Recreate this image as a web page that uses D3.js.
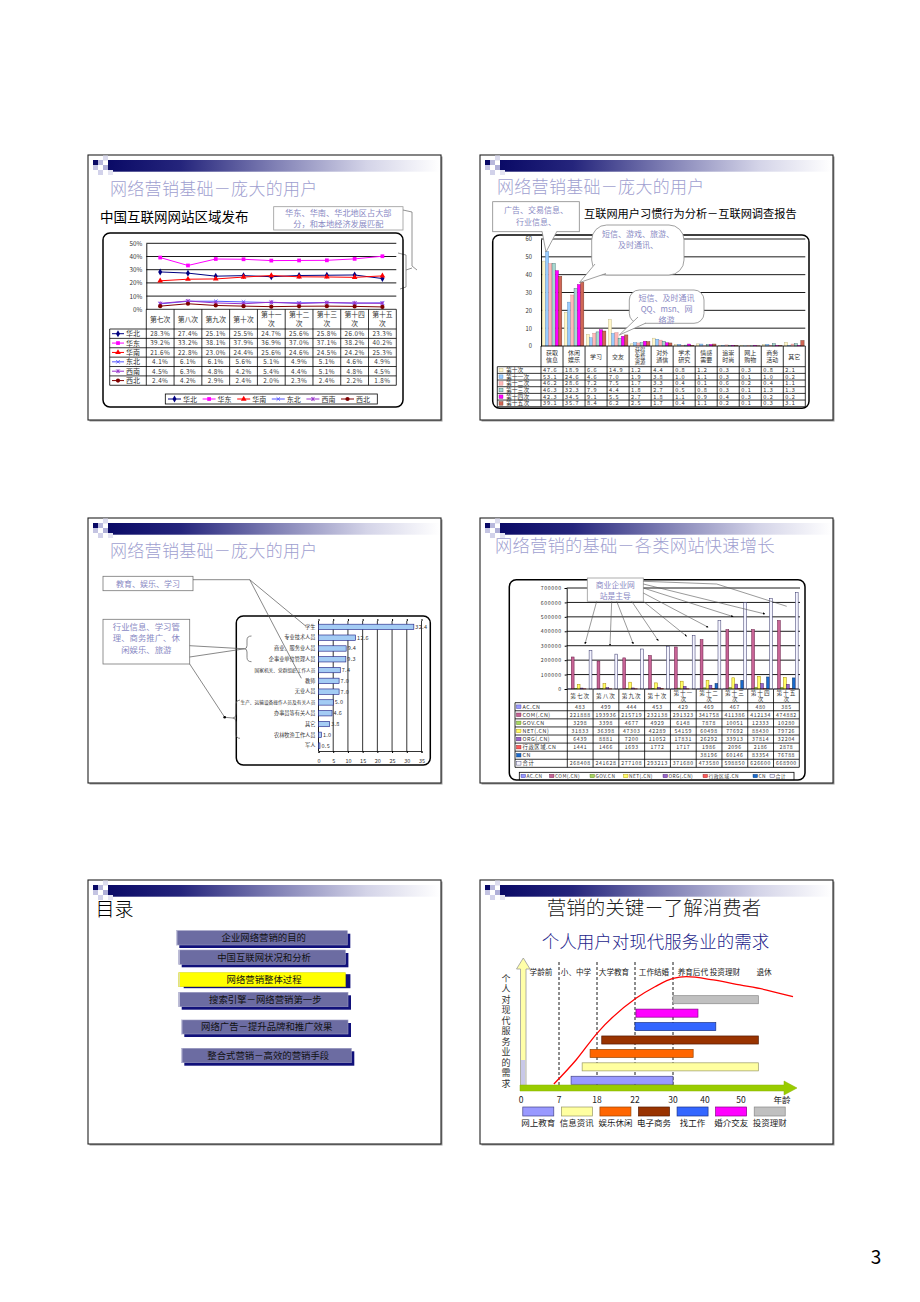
<!DOCTYPE html>
<html><head><meta charset="utf-8">
<script src="https://cdn.jsdelivr.net/npm/d3@7"></script>
<style>body{margin:0;background:#fff}svg{display:block}text{font-family:"Noto Sans CJK SC","Noto Sans",sans-serif}</style>
</head><body><svg id="c" width="920" height="1302"></svg>
<script>
// ---------- DATA ----------
// Slide 1: 中国互联网网站区域发布 (%)
const rounds1 = ["第七次","第八次","第九次","第十次","第十一次","第十二次","第十三次","第十四次","第十五次"];
const huabei = [28.3,27.4,25.1,25.5,24.7,25.6,25.8,26.0,23.3];
const huadong = [39.2,33.2,38.1,37.9,36.9,37.0,37.1,38.2,40.2];
const huanan = [21.6,22.8,23.0,24.4,25.6,24.6,24.5,24.2,25.3];
const dongbei = [4.1,6.1,6.1,5.6,5.1,4.9,5.1,4.6,4.9];
const xinan = [4.5,6.3,4.8,4.2,5.4,4.4,5.1,4.8,4.5];
const xibei = [2.4,4.2,2.9,2.4,2.0,2.3,2.4,2.2,1.8];
const regionNames = ["华北","华东","华南","东北","西南","西北"];
const pctTicks = [0,0.1,0.2,0.3,0.4,0.5];

// Slide 2: 互联网用户习惯行为分析
const habits = ["获取信息","休闲娱乐","学习","交友","获得免费资源","对外通信","学术研究","情感需要","追崇时尚","网上购物","商务活动","其它"];
const habitLabels = [["获取","信息"],["休闲","娱乐"],["学习"],["交友"],["获得","免费","资源"],["对外","通信"],["学术","研究"],["情感","需要"],["追崇","时尚"],["网上","购物"],["商务","活动"],["其它"]];
const surveys = ["第十次","第十一次","第十二次","第十三次","第十四次","第十五次"];
const habit10 = [47.6,18.9,6.6,14.9,1.2,4.4,0.8,1.2,0.3,0.3,0.8,2.1];
const habit11 = [53.1,24.6,4.6,7.0,1.9,3.8,1.0,1.1,0.3,0.1,1.0,0.2];
const habit12 = [46.2,28.6,7.2,7.5,1.7,3.3,0.4,0.1,0.6,0.2,0.4,1.1];
const habit13 = [46.3,32.3,7.9,4.4,1.8,2.7,0.5,0.8,0.3,0.1,1.3,1.3];
const habit14 = [42.3,34.5,9.1,5.5,2.7,1.8,1.1,0.9,0.4,0.3,0.2,0.2];
const habit15 = [39.1,35.7,8.4,6.2,2.5,1.7,0.4,1.1,0.2,0.1,0.3,3.1];
const habitTicks = [0,10,20,30,40,50,60];

// Slide 3: 职业分布 (%)
const occupations = ["学生","专业技术人员","商业、服务业人员","企事业单位管理人员","国家机关、党群组织工作人员","教师","无业人员","生产、运输设备操作人员及有关人员","办事员等有关人员","其它","农林牧渔工作人员","军人"];
const occValues = [32.4,12.6,9.4,9.3,7.4,7.0,7.0,5.0,4.6,3.8,1.0,0.5];
const occTicks = [0,5,10,15,20,25,30,35];

// Slide 4: 各类网站数量
const rounds4 = ["第七次","第八次","第九次","第十次","第十一次","第十二次","第十三次","第十四次","第十五次"];
const domainNames = ["AC.CN","COM(.CN)","GOV.CN","NET(.CN)","ORG(.CN)","行政区域.CN","CN","合计"];
const acCN = [483,499,444,453,429,469,467,480,385];
const comCN = [221888,193936,215719,232138,291323,341758,411386,412134,474882];
const govCN = [3298,3398,4677,4929,6148,7878,10051,12333,10280];
const netCN = [31833,36398,47303,42289,54159,60498,77692,88430,79726];
const orgCN = [6439,8881,7200,11052,17831,26292,33913,37814,32204];
const xzqyCN = [1441,1466,1693,1772,1717,1986,2096,2186,2878];
const cnCN = [null,null,null,null,null,38196,60146,83354,76788];
const totalCN = [268408,241628,277108,293213,371680,473580,598850,626600,668900];
const siteTicks = [0,100000,200000,300000,400000,500000,600000,700000];

// Slide 5: 目录
const tocItems = ["企业网络营销的目的","中国互联网状况和分析","网络营销整体过程","搜索引擎－网络营销第一步","网络广告－提升品牌和推广效果","整合式营销－高效的营销手段"];

// Slide 6: 个人用户对现代服务业的需求
const ageTicks = [0,7,18,22,30,40,50];
const lifeStages = ["学龄前","小、中学","大学教育","工作结婚","养育后代 投资理财","退休"];
const services = ["投资理财","婚介交友","找工作","电子商务","娱乐休闲","信息资讯","网上教育"];
const serviceStart = [30,22.2,22,18.5,16,13.7,10.5];
const serviceEnd = [55,37.8,43,55,36.3,55,30];
const legendServices = ["网上教育","信息资讯","娱乐休闲","电子商务","找工作","婚介交友","投资理财"];
const curveAges = [6,12,18,22.2,26.2,30,34.2,42.3,49.7,57.4,65];
const curveLevel = [3.5,25,48.4,79.4,89.6,97,98.5,95.6,91.2,86.7,80.8];

// ---------- HELPERS ----------
const svg = d3.select("#c");
svg.append("rect").attr("width",920).attr("height",1302).attr("fill","#fff");
const defs = svg.append("defs");
const grad = defs.append("linearGradient").attr("id","hdr").attr("x1","0").attr("x2","1");
[[0,"#0a0a66"],[0.22,"#25257c"],[0.5,"#7f7fb4"],[0.78,"#d4d4e8"],[1,"#ffffff"]].forEach(([o,c])=>grad.append("stop").attr("offset",o).attr("stop-color",c));
defs.append("marker").attr("id","arr").attr("viewBox","0 0 10 10").attr("refX",9).attr("refY",5)
  .attr("markerWidth",4).attr("markerHeight",4).attr("orient","auto")
  .append("path").attr("d","M0,0L10,5L0,10z").attr("fill","#000");

function txt(g,x,y,s,size,fill,o={}){
  const t=g.append("text").attr("x",x).attr("y",y).text(s).attr("font-size",size).attr("fill",fill);
  if(o.anchor) t.attr("text-anchor",o.anchor);
  if(o.weight) t.attr("font-weight",o.weight);
  if(o.ls!=null) t.attr("letter-spacing",o.ls);
  if(o.family) t.attr("font-family",o.family);
  return t;
}
function frame(x,y,w,h){
  const g=svg.append("g");
  g.append("rect").attr("x",x+1.5).attr("y",y+1.5).attr("width",w).attr("height",h).attr("fill","#999");
  g.append("rect").attr("x",x).attr("y",y).attr("width",w).attr("height",h).attr("fill","#fff").attr("stroke","#222").attr("stroke-width",1.1);
  g.append("rect").attr("x",x+20).attr("y",y+5).attr("width",w-21).attr("height",11.7).attr("fill","url(#hdr)");
  const sq=[[5,5,"#0a0a66"],[10,5,"#b8b8dc"],[15,0.5,"#dcdcee"],[5,10,"#c4c4e2"],[15,10,"#b0b0d8"],[10,15,"#d2d2ea"],[20,15,"#e4e4f2"]];
  sq.forEach(([dx,dy,c])=>g.append("rect").attr("x",x+dx).attr("y",y+dy).attr("width",5).attr("height",5).attr("fill",c));
  return g;
}
const lav="#8a8ac4";
function line(g,pts,color="#555",w=0.7,arrow=false){
  const p=g.append("path").attr("d",d3.line()(pts)).attr("fill","none").attr("stroke",color).attr("stroke-width",w);
  if(arrow) p.attr("marker-end","url(#arr)");
  return p;
}
const symX={draw(c,s){const r=Math.sqrt(s)/2;c.moveTo(-r,-r);c.lineTo(r,r);c.moveTo(-r,r);c.lineTo(r,-r);}};
const symAst={draw(c,s){const r=Math.sqrt(s)/2;c.moveTo(-r,-r);c.lineTo(r,r);c.moveTo(-r,r);c.lineTo(r,-r);c.moveTo(0,-r*1.2);c.lineTo(0,r*1.2);}};

// ---------- SLIDE 1 ----------
{
  const g=frame(88,155,353,265);
  txt(g,110,195,"网络营销基础－庞大的用户",17,"#a0a0d0",{weight:300,ls:0.3});
  txt(g,100,222,"中国互联网网站区域发布",13.5,"#000");
  g.append("rect").attr("x",273.7).attr("y",206.7).attr("width",129.3).attr("height",23.3).attr("fill","#fff").attr("stroke","#999").attr("stroke-width",0.8);
  txt(g,338.3,216.3,"华东、华南、华北地区占大部",8.2,lav,{anchor:"middle"});
  txt(g,338.3,227,"分，和本地经济发展匹配",8.2,lav,{anchor:"middle"});
  line(g,[[403,210],[412,212],[412,266],[417,270]],"#777",0.8);
  line(g,[[398,253],[406,255],[406,287],[400,289]],"#777",0.8);
  line(g,[[406,270],[412,268]],"#777",0.8);
  g.append("rect").attr("x",103).attr("y",233).attr("width",300).attr("height",174).attr("rx",7).attr("fill","none").attr("stroke","#000").attr("stroke-width",1.5);

  const x=d3.scaleBand().domain(rounds1).range([146.3,396.3]);
  const y=d3.scaleLinear().domain([0,0.5]).range([309.3,243.3]);
  g.append("g").selectAll("line").data(pctTicks.filter(d=>d>0)).join("line")
    .attr("x1",146.3).attr("x2",396.3).attr("y1",d=>y(d)).attr("y2",d=>y(d)).attr("stroke","#000").attr("stroke-width",0.9);
  const ax=g.append("g").attr("transform","translate(146.3,0)")
    .call(d3.axisLeft(y).tickValues(pctTicks).tickFormat(d3.format(".0%")).tickSize(0).tickPadding(4));
  ax.select(".domain").attr("stroke","#000").attr("stroke-width",0.9);
  ax.selectAll("text").attr("font-size",6.3).attr("fill","#333").attr("font-family","Liberation Serif, serif");

  const series=[
    {n:"华北",v:huabei,c:"#000080",s:d3.symbolDiamond,f:true},
    {n:"华东",v:huadong,c:"#ff00ff",s:d3.symbolSquare,f:true},
    {n:"华南",v:huanan,c:"#ff0000",s:d3.symbolTriangle,f:true},
    {n:"东北",v:dongbei,c:"#5555ff",s:symX,f:false},
    {n:"西南",v:xinan,c:"#9933cc",s:symAst,f:false},
    {n:"西北",v:xibei,c:"#800000",s:d3.symbolCircle,f:true}];
  const cx=(i)=>x(rounds1[i])+x.bandwidth()/2;
  const sym=(s)=>d3.symbol().type(s.s).size(s.f?14:12)();
  series.forEach(s=>{
    g.append("path").attr("d",d3.line().x((d,i)=>cx(i)).y(d=>y(d/100))(s.v)).attr("fill","none").attr("stroke",s.c).attr("stroke-width",1);
    g.append("g").selectAll("path").data(s.v).join("path").attr("d",sym(s))
      .attr("transform",(d,i)=>`translate(${cx(i)},${y(d/100)})`)
      .attr("fill",s.f?s.c:"none").attr("stroke",s.c).attr("stroke-width",s.f?0:0.9);
  });
  // table
  const top=309.3, hdrB=329, rh=9.38, rows=6, bottom=hdrB+rh*rows, left=109.7;
  const tg=g.append("g").attr("stroke","#000").attr("stroke-width",0.8);
  tg.append("line").attr("x1",146.3).attr("x2",396.3).attr("y1",top).attr("y2",top);
  for(let r=0;r<=rows;r++) tg.append("line").attr("x1",left).attr("x2",396.3).attr("y1",hdrB+r*rh).attr("y2",hdrB+r*rh);
  rounds1.forEach(d=>tg.append("line").attr("x1",x(d)).attr("x2",x(d)).attr("y1",top).attr("y2",bottom));
  tg.append("line").attr("x1",396.3).attr("x2",396.3).attr("y1",top).attr("y2",bottom);
  tg.append("line").attr("x1",left).attr("x2",left).attr("y1",hdrB).attr("y2",bottom);
  rounds1.forEach((d,i)=>{
    if(d.length>3){txt(g,cx(i),317,d.slice(0,3),6.8,"#333",{anchor:"middle"});txt(g,cx(i),326,d.slice(3),6.8,"#333",{anchor:"middle"});}
    else txt(g,cx(i),321.5,d,6.8,"#333",{anchor:"middle"});
  });
  series.forEach((s,r)=>{
    const yy=hdrB+r*rh+rh/2;
    g.append("line").attr("x1",112).attr("x2",124).attr("y1",yy).attr("y2",yy).attr("stroke",s.c).attr("stroke-width",1);
    g.append("path").attr("d",sym(s)).attr("transform",`translate(118,${yy})`).attr("fill",s.f?s.c:"none").attr("stroke",s.c).attr("stroke-width",s.f?0:0.9);
    txt(g,126,yy+2.5,s.n,7,"#333");
    s.v.forEach((v,i)=>txt(g,cx(i),yy+2.3,v.toFixed(1)+"%",6.3,"#333",{anchor:"middle",ls:0.4,family:"Liberation Serif, serif"}));
  });
  // legend
  g.append("rect").attr("x",165.3).attr("y",394).attr("width",212).attr("height",10).attr("fill","#fff").attr("stroke","#000").attr("stroke-width",0.8);
  series.forEach((s,i)=>{
    const lx=168+i*34.6, ly=399;
    g.append("line").attr("x1",lx).attr("x2",lx+13).attr("y1",ly).attr("y2",ly).attr("stroke",s.c).attr("stroke-width",1);
    g.append("path").attr("d",sym(s)).attr("transform",`translate(${lx+6.5},${ly})`).attr("fill",s.f?s.c:"none").attr("stroke",s.c).attr("stroke-width",s.f?0:0.9);
    txt(g,lx+15,ly+2.5,s.n,7,"#333");
  });
}

// ---------- SLIDE 2 ----------
{
  const g=frame(480,155,353,265);
  txt(g,497,193,"网络营销基础－庞大的用户",17,"#a0a0d0",{weight:300,ls:0.3});
  txt(g,584,217.5,"互联网用户习惯行为分析－互联网调查报告",11.2,"#000");
  g.append("rect").attr("x",492.7).attr("y",235).attr("width",316.3).attr("height",173.3).attr("rx",7).attr("fill","none").attr("stroke","#000").attr("stroke-width",1.5);
  const x=d3.scaleBand().domain(habits).range([541,805.3]);
  const xs=d3.scaleBand().domain(surveys).range([1.2,x.bandwidth()-1.2]);
  const y=d3.scaleLinear().domain([0,60]).range([346,239]);
  g.append("g").selectAll("line").data(habitTicks.filter(d=>d>0)).join("line")
    .attr("x1",541).attr("x2",805.3).attr("y1",d=>y(d)).attr("y2",d=>y(d)).attr("stroke","#000").attr("stroke-width",0.9);
  const ax=g.append("g").attr("transform","translate(541,0)").call(d3.axisLeft(y).tickValues(habitTicks).tickSize(0).tickPadding(9));
  ax.select(".domain").attr("stroke","#000").attr("stroke-width",0.9);
  ax.selectAll("text").attr("font-size",5.8).attr("fill","#333").attr("font-family","Liberation Serif, serif");
  const cols={"第十次":["#fff6c8","#b8b080"],"第十一次":["#99ccff","#5588bb"],"第十二次":["#ffb8b8","#cc8888"],"第十三次":["#a8d8d0","#336666"],"第十四次":["#ff00ff","#990099"],"第十五次":["#d06655","#663322"]};
  const sv=[habit10,habit11,habit12,habit13,habit14,habit15];
  surveys.forEach((s,k)=>{
    g.append("g").selectAll("rect").data(sv[k]).join("rect")
      .attr("x",(d,i)=>x(habits[i])+xs(s)).attr("width",xs.bandwidth())
      .attr("y",d=>y(d)).attr("height",d=>y(0)-y(d))
      .attr("fill",cols[s][0]).attr("stroke",cols[s][1]).attr("stroke-width",0.4);
  });
  // table
  const top=346, hdrB=366.7, rh=6.67, bottom=hdrB+rh*6, left=497.3;
  const tg=g.append("g").attr("stroke","#000").attr("stroke-width",0.8);
  tg.append("line").attr("x1",541).attr("x2",805.3).attr("y1",top).attr("y2",top);
  for(let r=0;r<=6;r++) tg.append("line").attr("x1",left).attr("x2",805.3).attr("y1",hdrB+r*rh).attr("y2",hdrB+r*rh);
  habits.forEach(d=>tg.append("line").attr("x1",x(d)).attr("x2",x(d)).attr("y1",top).attr("y2",bottom));
  tg.append("line").attr("x1",805.3).attr("x2",805.3).attr("y1",top).attr("y2",bottom);
  tg.append("line").attr("x1",left).attr("x2",left).attr("y1",hdrB).attr("y2",bottom);
  habitLabels.forEach((lbl,i)=>{
    const c=x(habits[i])+x.bandwidth()/2, fs=lbl.length>2?5.3:6;
    const y0=356.3-(lbl.length-1)*fs*0.55+fs*0.38;
    lbl.forEach((t,j)=>txt(g,c,y0+j*fs*1.1,t,fs,"#333",{anchor:"middle"}));
  });
  surveys.forEach((s,r)=>{
    const yy=hdrB+r*rh+rh/2;
    g.append("rect").attr("x",499).attr("y",yy-1.8).attr("width",4).attr("height",3.6).attr("fill",cols[s][0]).attr("stroke",cols[s][1]).attr("stroke-width",0.4);
    txt(g,506,yy+2.1,s,5.8,"#333");
    sv[r].forEach((v,i)=>txt(g,x(habits[i])+2,yy+2.1,v.toFixed(1),5.6,"#333",{ls:0.9,family:"Liberation Serif, serif"}));
  });
  // callouts
  g.append("rect").attr("x",492.7).attr("y",201.7).attr("width",86.6).attr("height",30).attr("fill","#fff").attr("stroke","#888").attr("stroke-width",0.8);
  g.append("path").attr("d","M542,231.2L546,252L557,231.2").attr("fill","#fff").attr("stroke","#888").attr("stroke-width",0.8);
  g.append("rect").attr("x",542.6).attr("y",230.3).attr("width",13.6).attr("height",1.6).attr("fill","#fff");
  txt(g,536,213,"广告、交易信息、",8,lav,{anchor:"middle"});
  txt(g,536,225,"行业信息、",8,lav,{anchor:"middle"});

  g.append("rect").attr("x",591.7).attr("y",225).attr("width",92.3).attr("height",50).attr("rx",15).attr("fill","#fff").attr("stroke","#888").attr("stroke-width",0.8);
  g.append("path").attr("d","M595,264L579.5,282.5L606,273.5").attr("fill","#fff").attr("stroke","#888").attr("stroke-width",0.8);
  g.append("path").attr("d","M596,263.5L604,272.5L596.5,271Z").attr("fill","#fff");
  txt(g,638,237,"短信、游戏、旅游、",8,lav,{anchor:"middle"});
  txt(g,638,248,"及时通讯、",8,lav,{anchor:"middle"});

  g.append("rect").attr("x",629.3).attr("y",290).attr("width",74.7).attr("height",33.3).attr("rx",10).attr("fill","#fff").attr("stroke","#888").attr("stroke-width",0.8);
  g.append("path").attr("d","M638,317L619.3,335L646,323").attr("fill","#fff").attr("stroke","#888").attr("stroke-width",0.8);
  g.append("path").attr("d","M637.5,318.5L645,322.5L640,321Z").attr("fill","#fff");
  txt(g,666.6,300.5,"短信、及时通讯",8,lav,{anchor:"middle"});
  txt(g,666.6,311.5,"QQ、msn、网",8,lav,{anchor:"middle"});
  txt(g,666.6,322.5,"络游",8,lav,{anchor:"middle"});
}

// ---------- SLIDE 3 ----------
{
  const g=frame(88,518,353,265);
  txt(g,110,557,"网络营销基础－庞大的用户",17,"#a0a0d0",{weight:300,ls:0.3});
  g.append("rect").attr("x",236.3).attr("y",616).attr("width",194).attr("height",149).attr("rx",7).attr("fill","none").attr("stroke","#000").attr("stroke-width",1.5);
  const x=d3.scaleLinear().domain([0,35]).range([318.5,421.5]);
  const y=d3.scaleBand().domain(occupations).range([621.5,751]).paddingInner(0.5).paddingOuter(0.25);
  g.append("g").selectAll("line").data(occTicks.filter(d=>d>0)).join("line")
    .attr("x1",d=>x(d)).attr("x2",d=>x(d)).attr("y1",621).attr("y2",751).attr("stroke","#000").attr("stroke-width",0.8);
  const ax=g.append("g").attr("transform","translate(0,751)").call(d3.axisBottom(x).tickValues(occTicks).tickSize(2).tickPadding(6));
  ax.select(".domain").attr("stroke","#000").attr("stroke-width",0.8);
  ax.selectAll("text").attr("font-size",5.5).attr("fill","#333").attr("font-family","Liberation Serif, serif");
  const axT=g.append("g").attr("transform","translate(0,621)").call(d3.axisTop(x).tickValues(occTicks).tickSize(2).tickFormat(""));
  axT.select(".domain").remove();
  g.append("line").attr("x1",318.5).attr("x2",318.5).attr("y1",621).attr("y2",751).attr("stroke","#000").attr("stroke-width",0.9);
  g.append("g").selectAll("rect").data(occValues).join("rect")
    .attr("x",x(0)).attr("y",(d,i)=>y(occupations[i])).attr("height",y.bandwidth())
    .attr("width",d=>x(d)-x(0)).attr("fill","#a4ccf4").attr("stroke","#1a1a80").attr("stroke-width",0.6);
  occupations.forEach((o,i)=>{
    const cy=y(o)+y.bandwidth()/2;
    txt(g,315.5,cy+1.8,o,o.length>12?4.7:5.2,"#333",{anchor:"end"});
    txt(g,x(occValues[i])+1.5,cy+2,occValues[i].toFixed(1),5.5,"#333",{family:"Liberation Serif, serif",ls:0.3});
  });
  // callouts
  g.append("rect").attr("x",103).attr("y",576.3).attr("width",90).attr("height",14.4).attr("fill","#fff").attr("stroke","#777").attr("stroke-width",0.8);
  txt(g,148,586.5,"教育、娱乐、学习",8,lav,{anchor:"middle"});
  line(g,[[193,579.7],[249.7,579.7]]);
  line(g,[[249.7,579.7],[306,626.3]]);
  line(g,[[249.7,579.7],[301.3,678.3]]);
  g.append("rect").attr("x",103).attr("y",619.3).attr("width",86.7).attr("height",44.7).attr("fill","#fff").attr("stroke","#777").attr("stroke-width",0.8);
  txt(g,146.3,629.8,"行业信息、学习管",8.4,lav,{anchor:"middle"});
  txt(g,146.3,641.3,"理、商务推广、休",8.4,lav,{anchor:"middle"});
  txt(g,146.3,652.8,"闲娱乐、旅游",8.4,lav,{anchor:"middle"});
  line(g,[[189.7,645.7],[244.5,648.8]]);
  line(g,[[189.7,657],[244.5,648.8]]);
  g.append("path").attr("d","M251.5,636Q247,636 247,640L247,645.5Q247,648.8 244.5,648.8Q247,648.8 247,652L247,657.5Q247,661.7 251.5,661.7").attr("fill","none").attr("stroke","#555").attr("stroke-width",0.7);
  line(g,[[189.7,664],[224.7,717.3],[232.8,718]]);
  g.append("circle").attr("cx",224.7).attr("cy",717.3).attr("r",1.3).attr("fill","#000");
  g.append("path").attr("d","M240,700Q236,700 236,704L236,714Q236,718 232.8,718Q236,718 236,722L236,734Q236,738.3 240,738.3").attr("fill","none").attr("stroke","#555").attr("stroke-width",0.7);
}

// ---------- SLIDE 4 ----------
{
  const g=frame(480,518,353,265);
  txt(g,495,552,"网络营销的基础－各类网站快速增长",17.3,"#a0a0d0",{weight:300,ls:0.2});
  g.append("rect").attr("x",509.3).attr("y",579.7).attr("width",295.7).attr("height",200.3).attr("rx",7).attr("fill","none").attr("stroke","#000").attr("stroke-width",1.5);
  const x=d3.scaleBand().domain(rounds4).range([567.3,799.3]);
  const xs=d3.scaleBand().domain(domainNames).range([1,x.bandwidth()-1]);
  const y=d3.scaleLinear().domain([0,700000]).range([689,588]);
  g.append("g").selectAll("line").data(siteTicks.filter(d=>d>0)).join("line")
    .attr("x1",566.7).attr("x2",800).attr("y1",d=>y(d)).attr("y2",d=>y(d)).attr("stroke","#000").attr("stroke-width",0.9);
  const ax=g.append("g").attr("transform","translate(566.7,0)").call(d3.axisLeft(y).tickValues(siteTicks).tickSize(2).tickPadding(3).tickFormat(d3.format("d")));
  ax.select(".domain").attr("stroke","#000").attr("stroke-width",0.9);
  ax.selectAll("text").attr("font-size",5.2).attr("fill","#333").attr("letter-spacing",0.6).attr("font-family","Liberation Serif, serif");
  const dv=[acCN,comCN,govCN,netCN,orgCN,xzqyCN,cnCN,totalCN];
  const dc=[["#9999ff","#333399"],["#c86496","#661a44"],["#a8d860","#557722"],["#ffff66","#aa8800"],["#9966cc","#442266"],["#ff5a5a","#882222"],["#1a6acc","#0a3366"],["#f4f4ff","#333366"]];
  domainNames.forEach((s,k)=>{
    const data=dv[k].map((v,i)=>({v,i})).filter(d=>d.v!=null);
    g.append("g").selectAll("rect").data(data).join("rect")
      .attr("x",d=>x(rounds4[d.i])+xs(s)).attr("width",xs.bandwidth()*0.95)
      .attr("y",d=>y(d.v)).attr("height",d=>y(0)-y(d.v))
      .attr("fill",dc[k][0]).attr("stroke",dc[k][1]).attr("stroke-width",0.5);
  });
  // table
  const top=689, hdrB=702.7, rh=8.08, bottom=hdrB+rh*8, left=515;
  const tg=g.append("g").attr("stroke","#000").attr("stroke-width",0.8);
  tg.append("line").attr("x1",567.3).attr("x2",799.3).attr("y1",top).attr("y2",top);
  for(let r=0;r<=8;r++) tg.append("line").attr("x1",left).attr("x2",799.3).attr("y1",hdrB+r*rh).attr("y2",hdrB+r*rh);
  rounds4.forEach(d=>tg.append("line").attr("x1",x(d)).attr("x2",x(d)).attr("y1",top).attr("y2",bottom));
  tg.append("line").attr("x1",799.3).attr("x2",799.3).attr("y1",top).attr("y2",bottom);
  tg.append("line").attr("x1",left).attr("x2",left).attr("y1",hdrB).attr("y2",bottom);
  rounds4.forEach((d,i)=>{
    const c=x(d)+x.bandwidth()/2;
    if(d.length>3){txt(g,c,695,d.slice(0,3),5.6,"#333",{anchor:"middle",ls:1});txt(g,c,701.3,d.slice(3),5.6,"#333",{anchor:"middle"});}
    else txt(g,c,698,d,5.6,"#333",{anchor:"middle",ls:1});
  });
  domainNames.forEach((s,r)=>{
    const yy=hdrB+r*rh+rh/2;
    g.append("rect").attr("x",516.5).attr("y",yy-1.8).attr("width",4.5).attr("height",3.6).attr("fill",dc[r][0]).attr("stroke",dc[r][1]).attr("stroke-width",0.4);
    txt(g,522.5,yy+2,s,5.4,"#333",{ls:0.5});
    dv[r].forEach((v,i)=>{ if(v!=null) txt(g,x(rounds4[i])+x.bandwidth()/2,yy+2,String(v),5.2,"#333",{anchor:"middle",ls:0.6,family:"Liberation Serif, serif"}); });
  });
  // legend
  g.append("rect").attr("x",519.3).attr("y",772.3).attr("width",274.7).attr("height",7.4).attr("fill","#fff").attr("stroke","#000").attr("stroke-width",0.8);
  const lx=[521,549.5,590,623.5,663,703,753,770];
  domainNames.forEach((s,i)=>{
    g.append("rect").attr("x",lx[i]).attr("y",774.3).attr("width",4.5).attr("height",3.4).attr("fill",dc[i][0]).attr("stroke",dc[i][1]).attr("stroke-width",0.4);
    txt(g,lx[i]+5.5,778.2,s,4.9,"#333",{ls:0.4});
  });
  // callout
  g.append("rect").attr("x",587.3).attr("y",578).attr("width",56).attr("height",23.3).attr("fill","#fff").attr("stroke","#999").attr("stroke-width",0.8);
  txt(g,615.3,587.5,"商业企业网",7.8,lav,{anchor:"middle"});
  txt(g,615.3,598.5,"站是主导",7.8,lav,{anchor:"middle"});
  [[[596.7,601.3],[585,644]],[[611.7,601.3],[610,645.7]],[[616.7,601.3],[633.3,644]],[[631.7,601.3],[658.3,640.7]],
   [[643.3,601.3],[686.7,636.3]],[[643.3,593],[708.3,627.3]],[[643.3,588],[733.3,616.7]],[[643.3,584],[765,614]]]
   .forEach(p=>line(g,p,"#555",0.6,true));
  line(g,[[643.3,581.3],[716.7,584],[786.7,606.3]],"#555",0.6);
}

// ---------- SLIDE 5 ----------
{
  const g=frame(88,880,353,264);
  txt(g,95.5,915.5,"目录",19,"#000",{weight:300});
  const lay=[[176.3,930.7,171,14.3],[178.7,950,166.7,14.3],[178.7,972.7,166.7,14],[178.7,992.3,169.3,14.4],[181.3,1020,166.7,14],[181.3,1048.3,170,14.4]];
  tocItems.forEach((t,i)=>{
    const [bx,by,bw,bh]=lay[i];
    const hl=i===2;
    g.append("rect").attr("x",bx+(hl?5:3)).attr("y",by+(hl?1.5:3)).attr("width",bw).attr("height",bh).attr("fill","#10107a");
    g.append("rect").attr("x",bx).attr("y",by).attr("width",bw).attr("height",bh).attr("fill",hl?"#ffff00":"#6c6ca2").attr("stroke",hl?"#dddd00":"#9a9ac0").attr("stroke-width",0.6);
    g.append("line").attr("x1",bx+0.5).attr("x2",bx+0.5).attr("y1",by).attr("y2",by+bh).attr("stroke","#d8d8e8").attr("stroke-width",1);
    txt(g,bx+bw/2+2,by+bh/2+3.4,t,9.4,"#111",{anchor:"middle"});
  });
}

// ---------- SLIDE 6 ----------
{
  const g=frame(480,880,353,264);
  txt(g,654,915,"营销的关键－了解消费者",19.5,"#222",{anchor:"middle",weight:300});
  txt(g,655.5,948,"个人用户对现代服务业的需求",17.5,"#1e1e8c",{anchor:"middle",weight:300});
  const ax=d3.scaleLinear().domain([0,7,18,22,30,40,50,65]).range([523,559,597,635,673,705,741,793]);
  const lv=d3.scaleLinear().domain([0,100]).range([1088,975]);
  const yb=d3.scaleBand().domain(services).range([993,1087]).paddingInner(0.4).paddingOuter(0.2);
  // y arrow
  g.append("path").attr("d","M520.5,1088L520.5,969L516.5,969L523.3,958L530,969L526,969L526,1088Z").attr("fill","#ffffa8").attr("stroke","#999").attr("stroke-width",0.8);
  g.append("rect").attr("x",521).attr("y",1060).attr("width",4.5).attr("height",27).attr("fill","#c8c8e8");
  // dashed
  [7,18,22,30].forEach(a=>g.append("line").attr("x1",ax(a)).attr("x2",ax(a)).attr("y1",962).attr("y2",1088).attr("stroke","#000").attr("stroke-width",0.9).attr("stroke-dasharray","3,2"));
  // stage labels
  const stX=[541,576,614,654,677.7,764];
  lifeStages.forEach((s,i)=>txt(g,stX[i],974.5,s,7.6,"#222",{anchor:i===4?"start":"middle"}));
  // bars
  const sc={"投资理财":["#c0c0c0","#888"],"婚介交友":["#ff00ff","#880088"],"找工作":["#3366ff","#1a3388"],"电子商务":["#993300","#551a00"],"娱乐休闲":["#ff6600","#994400"],"信息资讯":["#ffffa0","#999966"],"网上教育":["#9999ff","#444488"]};
  g.append("g").selectAll("rect").data(services).join("rect")
    .attr("x",(d,i)=>ax(serviceStart[i])).attr("width",(d,i)=>ax(serviceEnd[i])-ax(serviceStart[i]))
    .attr("y",d=>yb(d)).attr("height",yb.bandwidth())
    .attr("fill",d=>sc[d][0]).attr("stroke",d=>sc[d][1]).attr("stroke-width",0.7);
  // curve
  g.append("path").attr("d",d3.line().x((d,i)=>ax(d)).y((d,i)=>lv(curveLevel[i])).curve(d3.curveMonotoneX)(curveAges))
    .attr("fill","none").attr("stroke","#ff0000").attr("stroke-width",1.3);
  // x arrow
  g.append("path").attr("d","M520,1085L784,1085L784,1081L797,1088L784,1095L784,1091L520,1091Z").attr("fill","#99cc00").attr("stroke","#88b000").attr("stroke-width",0.5);
  // tick labels
  ageTicks.forEach(a=>txt(g,ax(a)-(a===0?2:0),1103,String(a),8.5,"#222",{anchor:"middle"}));
  txt(g,782,1103,"年龄",8.5,"#222",{anchor:"middle"});
  // vertical label
  "个人对现代服务业的需求".split("").forEach((c,i)=>txt(g,506,981.5+i*10.55,c,9,"#333",{anchor:"middle"}));
  // legend
  const lg=d3.scaleBand().domain(legendServices).range([519,789]);
  legendServices.forEach(s=>{
    const c=lg(s)+lg.bandwidth()/2;
    g.append("rect").attr("x",c-15.5).attr("y",1107).attr("width",31).attr("height",9).attr("fill",sc[s][0]).attr("stroke",sc[s][1]).attr("stroke-width",0.7);
    txt(g,c,1126,s,8.5,"#222",{anchor:"middle"});
  });
}

// page number
txt(svg,876,1264,"3",19,"#000",{family:"Liberation Serif, serif",anchor:"middle"});
</script></body></html>
